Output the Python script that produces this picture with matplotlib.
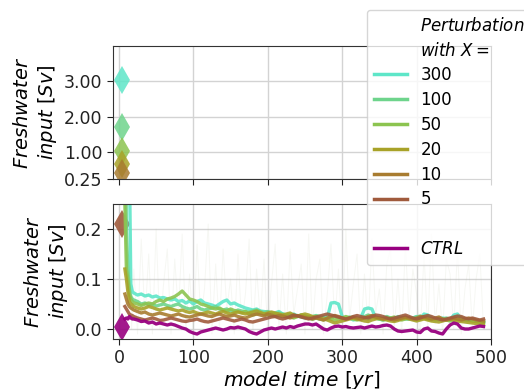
import numpy as np
from matplotlib import pyplot as plt
from matplotlib.lines import Line2D
from matplotlib.ticker import FormatStrFormatter

# Perturbation experiments (X = 300, 100, 50, 20, 10, 5) and the control run
labels = ["300", "100", "50", "20", "10", "5"]
colors = ["#5ee6c8", "#6ed48c", "#8cc450", "#a8a228", "#a87c30", "#a05a3c"]
ctrl_color = "#980080"

# freshwater forcing applied at the start (diamonds)
forcing_year = 4
forcing = [3.05, 1.71, 1.05, 0.66, 0.41, 0.21]
ctrl_forcing = 0.005

# time axis of the running means
years = np.concatenate([[8, 10, 12, 14, 16, 18], np.arange(20, 495, 5)])

fw_300 = [1.5, 1.0, 0.6, 0.35, 0.09, 0.075,
          0.072, 0.068, 0.07, 0.066, 0.068, 0.064, 0.066, 0.062, 0.063, 0.06,
          0.058, 0.06, 0.055, 0.057, 0.052, 0.056, 0.05, 0.055, 0.058, 0.052,
          0.05, 0.048, 0.045, 0.05, 0.055, 0.058, 0.05, 0.052, 0.048, 0.045,
          0.042, 0.04, 0.038, 0.04, 0.036, 0.035, 0.034, 0.03, 0.032, 0.035,
          0.03, 0.028, 0.025, 0.03, 0.026, 0.024, 0.022, 0.025, 0.02, 0.022,
          0.02, 0.025, 0.022, 0.052, 0.053, 0.05, 0.025, 0.02, 0.022, 0.018,
          0.02, 0.022, 0.04, 0.042, 0.04, 0.022, 0.02, 0.018, 0.02, 0.022,
          0.02, 0.025, 0.022, 0.02, 0.02, 0.022, 0.025, 0.02, 0.03, 0.028,
          0.022, 0.018, 0.02, 0.022, 0.02, 0.018, 0.028, 0.03, 0.02, 0.018,
          0.017, 0.018, 0.016, 0.014, 0.012]
fw_100 = [0.6, 0.2, 0.12, 0.08, 0.065, 0.06,
          0.058, 0.055, 0.05, 0.052, 0.048, 0.05, 0.046, 0.048, 0.05, 0.047,
          0.045, 0.048, 0.05, 0.045, 0.042, 0.04, 0.042, 0.045, 0.04, 0.038,
          0.04, 0.042, 0.045, 0.04, 0.038, 0.04, 0.036, 0.035, 0.038, 0.036,
          0.035, 0.034, 0.036, 0.038, 0.035, 0.033, 0.035, 0.032, 0.03, 0.032,
          0.03, 0.028, 0.03, 0.027, 0.025, 0.028, 0.026, 0.024, 0.025, 0.027,
          0.025, 0.022, 0.02, 0.022, 0.025, 0.023, 0.02, 0.022, 0.024, 0.022,
          0.02, 0.022, 0.025, 0.028, 0.025, 0.022, 0.02, 0.022, 0.025, 0.022,
          0.02, 0.022, 0.024, 0.022, 0.02, 0.022, 0.024, 0.026, 0.022, 0.02,
          0.022, 0.02, 0.018, 0.02, 0.022, 0.02, 0.022, 0.024, 0.022, 0.02,
          0.018, 0.02, 0.017, 0.016, 0.014]
fw_50 = [0.25, 0.12, 0.1, 0.07, 0.06, 0.055,
         0.052, 0.05, 0.047, 0.05, 0.052, 0.05, 0.055, 0.058, 0.055, 0.06,
         0.062, 0.065, 0.07, 0.076, 0.068, 0.06, 0.058, 0.055, 0.05, 0.048,
         0.045, 0.042, 0.04, 0.042, 0.038, 0.036, 0.04, 0.037, 0.035, 0.033,
         0.035, 0.03, 0.028, 0.03, 0.032, 0.03, 0.028, 0.026, 0.03, 0.028,
         0.025, 0.027, 0.024, 0.022, 0.025, 0.028, 0.025, 0.022, 0.02, 0.022,
         0.02, 0.018, 0.022, 0.02, 0.018, 0.02, 0.022, 0.025, 0.022, 0.02,
         0.018, 0.02, 0.022, 0.02, 0.024, 0.022, 0.02, 0.018, 0.02, 0.022,
         0.024, 0.02, 0.018, 0.02, 0.022, 0.02, 0.018, 0.02, 0.022, 0.02,
         0.018, 0.02, 0.022, 0.02, 0.018, 0.016, 0.018, 0.02, 0.022, 0.02,
         0.018, 0.016, 0.015, 0.014, 0.013]
fw_20 = [0.12, 0.1, 0.075, 0.055, 0.05, 0.048,
         0.045, 0.042, 0.04, 0.042, 0.045, 0.043, 0.04, 0.038, 0.04, 0.042,
         0.04, 0.038, 0.036, 0.038, 0.035, 0.033, 0.035, 0.032, 0.03, 0.032,
         0.034, 0.032, 0.03, 0.033, 0.035, 0.032, 0.03, 0.032, 0.034, 0.032,
         0.03, 0.032, 0.034, 0.036, 0.033, 0.03, 0.032, 0.034, 0.032, 0.03,
         0.028, 0.03, 0.032, 0.028, 0.026, 0.028, 0.03, 0.028, 0.025, 0.024,
         0.022, 0.02, 0.018, 0.015, 0.012, 0.014, 0.016, 0.018, 0.02, 0.022,
         0.02, 0.018, 0.016, 0.015, 0.018, 0.02, 0.022, 0.02, 0.018, 0.016,
         0.015, 0.017, 0.02, 0.022, 0.02, 0.018, 0.016, 0.018, 0.02, 0.018,
         0.016, 0.015, 0.014, 0.016, 0.018, 0.02, 0.018, 0.016, 0.015, 0.014,
         0.013, 0.012, 0.011, 0.01, 0.01]
fw_10 = [0.07, 0.06, 0.05, 0.045, 0.042, 0.04,
         0.038, 0.035, 0.032, 0.034, 0.03, 0.028, 0.03, 0.032, 0.03, 0.028,
         0.026, 0.028, 0.03, 0.027, 0.025, 0.024, 0.026, 0.028, 0.03, 0.028,
         0.026, 0.025, 0.028, 0.03, 0.027, 0.025, 0.026, 0.028, 0.025, 0.023,
         0.022, 0.025, 0.028, 0.03, 0.028, 0.026, 0.03, 0.028, 0.025, 0.027,
         0.026, 0.024, 0.022, 0.025, 0.027, 0.025, 0.023, 0.022, 0.02, 0.022,
         0.02, 0.018, 0.022, 0.025, 0.027, 0.025, 0.022, 0.02, 0.022, 0.024,
         0.022, 0.02, 0.022, 0.025, 0.027, 0.024, 0.022, 0.02, 0.022, 0.02,
         0.018, 0.02, 0.022, 0.024, 0.022, 0.02, 0.022, 0.025, 0.024, 0.022,
         0.02, 0.022, 0.024, 0.02, 0.018, 0.02, 0.022, 0.02, 0.018, 0.02,
         0.022, 0.02, 0.018, 0.017, 0.016]
fw_5 = [0.045, 0.04, 0.035, 0.03, 0.028, 0.027,
        0.025, 0.022, 0.02, 0.018, 0.02, 0.022, 0.02, 0.017, 0.018, 0.02,
        0.022, 0.02, 0.018, 0.016, 0.015, 0.017, 0.018, 0.02, 0.017, 0.015,
        0.014, 0.016, 0.018, 0.02, 0.022, 0.02, 0.018, 0.016, 0.018, 0.02,
        0.018, 0.015, 0.014, 0.016, 0.018, 0.02, 0.022, 0.024, 0.025, 0.022,
        0.02, 0.022, 0.025, 0.028, 0.026, 0.024, 0.022, 0.02, 0.022, 0.024,
        0.026, 0.028, 0.03, 0.028, 0.026, 0.024, 0.022, 0.02, 0.022, 0.025,
        0.027, 0.025, 0.023, 0.022, 0.025, 0.028, 0.027, 0.025, 0.022, 0.02,
        0.022, 0.024, 0.026, 0.028, 0.025, 0.022, 0.02, 0.022, 0.025, 0.027,
        0.025, 0.022, 0.02, 0.018, 0.02, 0.022, 0.024, 0.026, 0.025, 0.022,
        0.02, 0.022, 0.02, 0.018, 0.02]
fw_ctrl = [0.02, 0.022, 0.02, 0.025, 0.022, 0.02,
           0.02, 0.018, 0.015, 0.016, 0.012, 0.014, 0.01, 0.012, 0.01, 0.008,
           0.01, 0.008, 0.005, 0.002, 0.0, -0.005, -0.008, -0.01, -0.006, -0.004,
           -0.002, 0.0, 0.002, 0.0, -0.002, 0.0, 0.003, 0.002, 0.004, 0.002,
           0.0, -0.005, -0.008, -0.01, -0.006, -0.002, 0.0, 0.002, 0.0, 0.002,
           0.004, 0.002, 0.005, 0.003, 0.006, 0.008, 0.01, 0.01, 0.008, 0.01,
           0.005, 0.0, -0.002, 0.002, 0.005, 0.006, 0.004, 0.005, 0.003, 0.002,
           0.003, 0.004, 0.002, 0.004, 0.006, 0.004, 0.005, 0.007, 0.008, 0.006,
           0.0, -0.004, -0.005, -0.004, -0.003, -0.002, -0.006, -0.007, 0.0, 0.002,
           -0.004, -0.005, -0.008, -0.01, 0.0, 0.008, 0.012, 0.01, 0.002, 0.0,
           0.0, 0.002, 0.004, 0.006, 0.005]

# faint annual (unsmoothed) values, sampled sparsely
raw_years = np.concatenate([[1, 3, 5, 7, 9, 12, 15, 17], np.arange(20, 495, 5)])
raw_fw = [3.0, 3.0, 3.0, 2.0, 0.4, 0.05, 0.22, 0.0,
          0.12, -0.01, 0.18, 0.02, 0.15, -0.01, 0.2, 0.0, 0.09, 0.16,
          -0.01, 0.14, 0.03, 0.19, 0.0, 0.11, -0.01, 0.17, 0.02, 0.08,
          0.21, -0.01, 0.13, 0.0, 0.16, 0.04, 0.1, -0.01, 0.15, 0.01,
          0.07, 0.18, -0.01, 0.12, 0.02, 0.14, -0.01, 0.09, 0.17, 0.0,
          0.11, -0.01, 0.16, 0.03, 0.08, 0.13, -0.01, 0.19, 0.0, 0.1,
          0.14, -0.01, 0.07, 0.17, 0.01, 0.12, -0.01, 0.2, 0.02, 0.09,
          0.15, -0.01, 0.11, 0.0, 0.18, 0.03, 0.08, -0.01, 0.13, 0.16,
          0.0, 0.1, -0.01, 0.17, 0.02, 0.12, 0.07, -0.01, 0.15, 0.0,
          0.19, 0.01, 0.09, -0.01, 0.14, 0.11, 0.0, 0.16, -0.01, 0.08,
          0.13, 0.0, 0.1, 0.15, 0.0]

series = [fw_300, fw_100, fw_50, fw_20, fw_10, fw_5]

plt.rcParams['font.size'] = 12
fig = plt.figure(figsize=(5.24, 3.89), dpi=100)
ax_top = fig.add_axes([0.2156, 0.5398, 0.7214, 0.3419])
ax_bot = fig.add_axes([0.2156, 0.1285, 0.7214, 0.3471], sharex=ax_top)

for ax in (ax_top, ax_bot):
    ax.grid(True, color="#d3d3d3", lw=1)
    ax.set_axisbelow(True)
    for sp in ax.spines.values():
        sp.set_color("#333333")
    ax.tick_params(colors="#222222", labelsize=12.5, length=4)

# forcing diamonds
for f, c in zip(forcing[:5], colors[:5]):
    ax_top.plot(forcing_year, f, "d", color=c, ms=14, mew=0, alpha=0.85)
ax_bot.plot(forcing_year, forcing[5], "d", color=colors[5], ms=14, mew=0, alpha=0.9)
ax_bot.plot(forcing_year, ctrl_forcing, "d", color=ctrl_color, ms=14, mew=0, alpha=0.9)

# faint raw values behind the running means
ax_bot.plot(raw_years, raw_fw, color="#b8c0a0", lw=0.7, alpha=0.12, zorder=1)

# running means
for vals, c in zip(series, colors):
    ax_bot.plot(years, vals, color=c, lw=2.4, alpha=0.9)
ax_bot.plot(years, fw_ctrl, color=ctrl_color, lw=2.4, alpha=0.95)

ax_top.set_ylim(0.25, 4.0)
ax_top.set_yticks([0.25, 1, 2, 3])
ax_top.yaxis.set_major_formatter(FormatStrFormatter("%.2f"))
ax_top.tick_params(labelbottom=False)

ax_bot.set_ylim(-0.02, 0.25)
ax_bot.set_yticks([0.0, 0.1, 0.2])
ax_bot.yaxis.set_major_formatter(FormatStrFormatter("%.1f"))
ax_bot.set_xlim(-8, 500)
ax_bot.set_xticks([0, 100, 200, 300, 400, 500])

ylab = "$\\it{Freshwater}$\n$\\it{input}$ [$\\it{Sv}$]"
ax_top.set_ylabel(ylab, fontsize=14)
ax_bot.set_ylabel(ylab, fontsize=14)
ax_bot.set_xlabel("$\\it{model\\ time}$ [$\\it{yr}$]", fontsize=14.5, labelpad=1)

# legend with header rows and a blank spacer
blank = Line2D([], [], color="none")
handles = [blank, blank]
names = ["$\\it{Perturbation}$", "$\\it{with}\\ X =$"]
for lab, c in zip(labels, colors):
    handles.append(Line2D([], [], color=c, lw=2.5))
    names.append(lab)
handles += [blank, Line2D([], [], color=ctrl_color, lw=2.5)]
names += [" ", "$\\it{CTRL}$"]
fig.legend(handles, names, loc="upper left", bbox_to_anchor=(367 / 524, 1 - 10 / 389),
           fontsize=12, framealpha=0.8, labelspacing=0.41, handlelength=2.0,
           borderaxespad=0, edgecolor="#cccccc")

fig.savefig("out.png", dpi=100)
